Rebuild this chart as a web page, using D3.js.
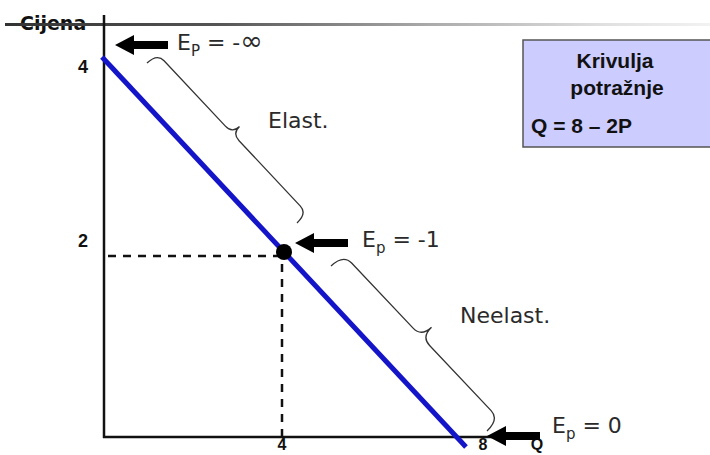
<!DOCTYPE html>
<html><head><meta charset="utf-8">
<script src="https://cdn.jsdelivr.net/npm/d3@7"></script>
<style>body{margin:0;background:#fff;} svg{display:block;}</style>
</head><body><svg id="c" width="710" height="455"></svg>
<script>
// ---- data ----
const demandCurve = [{q:0, p:4}, {q:8, p:0}];   // Q = 8 - 2P
const unitPoint = {q:4, p:2};
const priceTicks = [4, 2];
const qtyTicks = [4, 8];
const axisTitles = {y:"Cijena", x:"Q"};
const elasticities = [
  {q:0, p:4, sub:"P", rest:" = -", big:"\u221E"},
  {q:4, p:2, sub:"p", rest:" = -1", big:""},
  {q:8, p:0, sub:"p", rest:" = 0", big:""}
];
const regionLabels = ["Elast.", "Neelast."];
const legendLines = ["Krivulja", "potražnje", "Q = 8 \u2013 2P"];

// ---- drawing ----
const svg = d3.select('#c');
const x = d3.scaleLinear().domain([0, 8]).range([102, 466]);
const y = d3.scaleLinear().domain([0, 4]).range([447, 57]);
const axisX0 = 104, axisY0 = 437;
const ink = '#111';

const defs = svg.append('defs');
const g = defs.append('linearGradient').attr('id', 'topg').attr('x1', '0%').attr('x2', '100%');
[[0, '#333'], [0.3, '#555'], [0.6, '#aaa'], [0.85, '#e0e0e0'], [1, '#f2f2f2']]
  .forEach(([o, c]) => g.append('stop').attr('offset', o).attr('stop-color', c));

// y title (with line through it)
svg.append('text').attr('x', 20).attr('y', 30)
  .attr('font-family', 'DejaVu Sans').attr('font-weight', 'bold').attr('font-size', 19)
  .attr('fill', ink).text(axisTitles.y);
svg.append('rect').attr('x', 5).attr('y', 23).attr('width', 705).attr('height', 3).attr('fill', 'url(#topg)');

// legend box
const lg = svg.append('g');
lg.append('rect').attr('x', 523).attr('y', 40).attr('width', 200).attr('height', 107)
  .attr('fill', '#ccccff').attr('stroke', '#555').attr('stroke-width', 1.5);
lg.append('text').attr('x', 615).attr('y', 68).attr('text-anchor', 'middle').text(legendLines[0]);
lg.append('text').attr('x', 617).attr('y', 95).attr('text-anchor', 'middle').text(legendLines[1]);
lg.append('text').attr('x', 531).attr('y', 133).text(legendLines[2]);
lg.selectAll('text').attr('font-family', 'Liberation Sans, Arial').attr('font-weight', 'bold')
  .attr('font-size', 21).attr('fill', '#111');

// axes
svg.append('line').attr('x1', axisX0).attr('x2', axisX0).attr('y1', 15).attr('y2', axisY0 + 1)
  .attr('stroke', ink).attr('stroke-width', 2.5);
svg.append('line').attr('x1', axisX0 - 1).attr('x2', x(8) + 26).attr('y1', axisY0).attr('y2', axisY0)
  .attr('stroke', ink).attr('stroke-width', 2.5);

// tick labels
const tickFont = sel => sel.attr('font-family', 'Liberation Sans, Arial').attr('font-weight', 'bold')
  .attr('font-size', 18).attr('fill', ink).attr('text-anchor', 'middle');
svg.selectAll('.pt').data(priceTicks).enter().append('text').attr('class', 'pt')
  .attr('x', 83).attr('y', d => y(d) + (d === 4 ? 16 : -5)).text(d => d).call(tickFont);
svg.selectAll('.qt').data(qtyTicks).enter().append('text').attr('class', 'qt')
  .attr('x', d => x(d) + (d === 8 ? 17 : -2)).attr('y', 450).text(d => d).call(tickFont)
  .attr('font-size', 16);
svg.append('text').attr('x', x(8) + 71).attr('y', 450).text(axisTitles.x).call(tickFont)
  .attr('font-size', 16);

// dashed guides
svg.append('line').attr('x1', axisX0 + 4).attr('x2', x(unitPoint.q)).attr('y1', y(unitPoint.p) + 4).attr('y2', y(unitPoint.p) + 4)
  .attr('stroke', ink).attr('stroke-width', 2.5).attr('stroke-dasharray', '8,7');
svg.append('line').attr('x1', x(unitPoint.q) - 2).attr('x2', x(unitPoint.q) - 2).attr('y1', y(unitPoint.p) + 12).attr('y2', axisY0)
  .attr('stroke', ink).attr('stroke-width', 2.5).attr('stroke-dasharray', '8,7');

// demand curve
svg.append('path').datum(demandCurve)
  .attr('d', d3.line().x(d => x(d.q)).y(d => y(d.p)))
  .attr('stroke', '#1414c8').attr('stroke-width', 5).attr('fill', 'none');

// unit-elastic point
svg.append('circle').attr('cx', x(unitPoint.q)).attr('cy', y(unitPoint.p)).attr('r', 8).attr('fill', '#000');

// braces
function brace(x1, y1, x2, y2, h, w, r) {
  const L = Math.hypot(x2 - x1, y2 - y1);
  const ang = Math.atan2(y2 - y1, x2 - x1) * 180 / Math.PI;
  const m = L / 2;
  const d = `M0,0 Q0,${h} ${r},${h} L${m - r},${h} Q${m},${h} ${m},${w} Q${m},${h} ${m + r},${h} L${L - r},${h} Q${L},${h} ${L},0`;
  svg.append('path').attr('d', d).attr('transform', `translate(${x1},${y1}) rotate(${ang})`)
    .attr('fill', 'none').attr('stroke', '#333').attr('stroke-width', 1.3);
}
brace(x(0) + 195, y(4) + 166, x(0) + 45, y(4) + 6, 14, 24, 10);
brace(x(4) + 203, y(2) + 179, x(4) + 47, y(2) + 14, 17, 31, 12);

svg.append('text').attr('x', 268).attr('y', 128).text(regionLabels[0]);
svg.append('text').attr('x', 460).attr('y', 323).text(regionLabels[1]);

// arrows and elasticity labels
const arrowOffsets = [[13, -12, 62, 5], [11, -9, 67, 4], [21, 0, 65, -3]];
elasticities.forEach((e, i) => {
  const [dx, dy, tx, ty] = arrowOffsets[i];
  const tipX = x(e.q) + dx, tipY = (i === 2 ? axisY0 - 1 : y(e.p) + dy);
  const pts = [[0, 0], [19, -10], [19, -4], [53, -4], [53, 4], [19, 4], [19, 10]]
    .map(([a, b]) => [tipX + a, tipY + b]);
  svg.append('polygon').attr('points', pts.map(p => p.join(',')).join(' ')).attr('fill', '#000');
  const t = svg.append('text').attr('x', tipX + tx).attr('y', tipY + ty).attr('class', 'ev');
  t.append('tspan').text('E');
  t.append('tspan').attr('font-size', 15).attr('dy', 6).text(e.sub);
  t.append('tspan').attr('dy', -6).text(e.rest);
  if (e.big) t.append('tspan').attr('font-size', 27).text(e.big);
});
svg.selectAll('text:not([font-family])').attr('font-family', 'DejaVu Sans, sans-serif')
  .attr('font-size', 22).attr('fill', '#2a2a2a');
</script></body></html>
